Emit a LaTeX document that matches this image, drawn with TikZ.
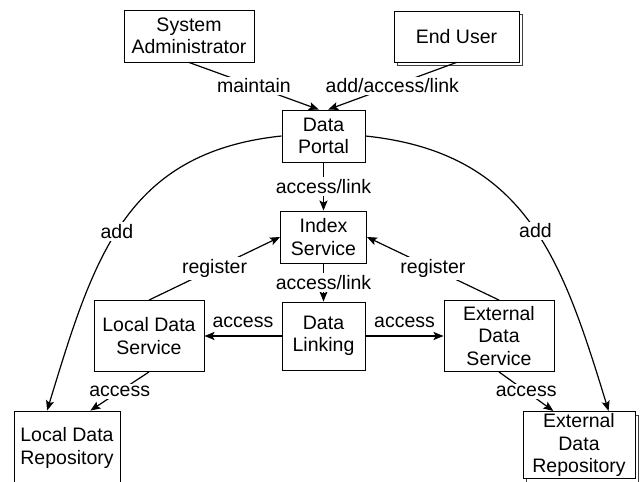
\documentclass[tikz,border=0pt]{standalone}
\usepackage{fontspec}
\setmainfont{Liberation Sans}
\usepackage{tikz}
\usetikzlibrary{shadows,arrows.meta,positioning}
\tikzstyle{block} = [rectangle, draw, fill=white, line width=0.9pt, align=center, inner sep=2pt]
\tikzstyle{stack} = [copy shadow={shadow xshift=3.5pt, shadow yshift=-3.5pt, draw=black!75, fill=white, line width=0.7pt}]
\tikzstyle{flow} = [->, line width=1.2pt]
\tikzstyle{linklabel} = [fill=white, inner sep=2pt]

\begin{document}
\begin{tikzpicture}[x=1pt, y=1pt, node distance=100pt, >={Stealth[length=10pt,width=8pt,inset=2pt]}, font=\fontsize{19.5}{22.5}\selectfont]
	\useasboundingbox (0,0) rectangle (640,482);
	\node[block, minimum width=83pt, minimum height=52pt] (portal) at (323.5,346) {Data\\Portal};
	\node[block, minimum width=86pt, minimum height=52pt] (index) [below of=portal, node distance=101pt] {Index\\Service};
	\node[block, minimum width=83pt, minimum height=68pt] (linking) [below of=index, node distance=99pt] {Data\\Linking};
	\node[block, minimum width=110pt, minimum height=71pt] (lds) [left of=linking, node distance=174.5pt] {Local Data\\Service};
	\node[block, minimum width=110pt, minimum height=71pt] (eds) [right of=linking, node distance=175.5pt] {External\\Data\\Service};
	\node[block, minimum width=130pt, minimum height=52pt] (admin) at (189,446) {System\\Administrator};
	\node[block, stack, minimum width=125pt, minimum height=51pt] (user) at (456.5,445.5) {End User};
	\node[block, minimum width=106pt, minimum height=74pt] (ldr) at (67,34) {Local Data\\Repository};
	\node[block, stack, minimum width=112pt, minimum height=64pt] (edr) at (579,37) {External\\Data\\Repository};

	\draw[flow] (admin.south) -- node[linklabel] {maintain} (portal.100);
	\draw[flow] (user.south) -- node[linklabel] {add/access/link} (portal.80);
	\draw[flow] (portal) -- node[linklabel] {access/link} (index);
	\draw[flow] (index) -- node[linklabel] {access/link} (linking);
	\draw[flow] (lds.north) -- node[linklabel] {register} (index.west);
	\draw[flow] (eds.north) -- node[linklabel] {register} (index.east);
	\draw[flow] (linking.west) -- node[above=4pt] {access} (lds.east);
	\draw[flow] (linking.east) -- node[above=4pt] {access} (eds.west);
	\draw[flow] (lds.south) -- node[linklabel] {access} (ldr.58);
	\draw[flow] (eds.south) -- node[linklabel] {access} (edr.127);
	\draw[flow] (portal.west) to[out=186,in=73,looseness=1.12] node[linklabel, pos=0.53] {add} (ldr.118);
	\draw[flow] (portal.east) to[out=-6,in=107,looseness=1.12] node[linklabel, pos=0.53] {add} (edr.49);
\end{tikzpicture}
\end{document}
